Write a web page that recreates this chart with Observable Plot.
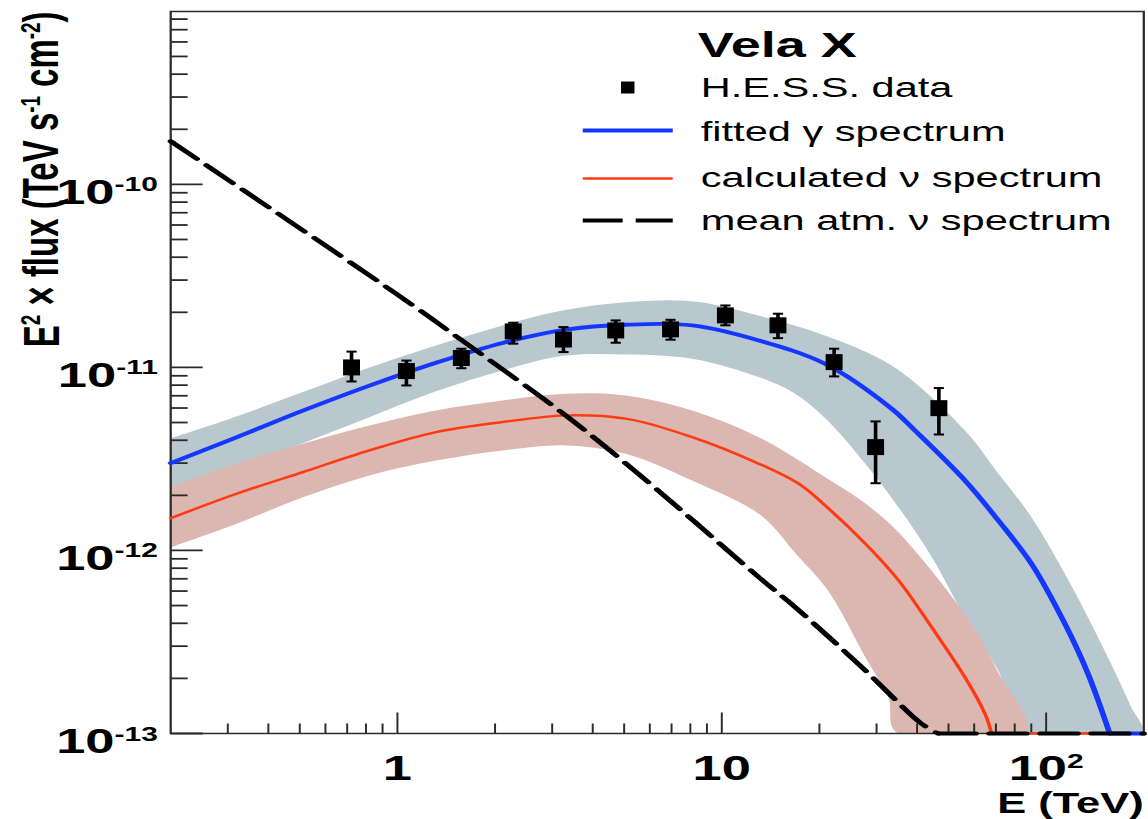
<!DOCTYPE html>
<html>
<head>
<meta charset="utf-8">
<script src="https://cdn.jsdelivr.net/npm/d3@7"></script>
<script src="https://cdn.jsdelivr.net/npm/@observablehq/plot@0.6"></script>
<style>
  html, body { margin: 0; padding: 0; background: #fff; overflow: hidden; }
  #chart { width: 765.333px; height: 819px; transform: scaleX(1.5); transform-origin: 0 0; }
</style>
</head>
<body>
<div id="chart"></div>
<script>
// The figure is laid out at 1/1.5 of its width and widened by CSS,
// which gives the broad lettering of the printed spectrum plot.
const S = 1.5;
const W = 1148 / S, H = 819;
const Y_MIN = 1e-13, Y_MAX = 8.8e-10;

// H.E.S.S. flux points: energy (TeV), E^2 dN/dE and 1-sigma bounds (TeV s^-1 cm^-2)
const pointE  = [0.722, 1.066, 1.574, 2.275, 3.25, 4.71, 6.95, 10.26, 14.9, 22.2, 29.8, 46.7];
const pointF  = [1.00e-11, 0.955e-11, 1.125e-11, 1.573e-11, 1.42e-11, 1.592e-11, 1.614e-11, 1.924e-11, 1.698e-11, 1.069e-11, 3.67e-12, 5.99e-12];
const pointHi = [1.22e-11, 1.09e-11, 1.265e-11, 1.755e-11, 1.66e-11, 1.806e-11, 1.82e-11, 2.18e-11, 1.965e-11, 1.265e-11, 5.07e-12, 7.71e-12];
const pointLo = [0.838e-11, 0.797e-11, 0.99e-11, 1.348e-11, 1.213e-11, 1.364e-11, 1.417e-11, 1.698e-11, 1.445e-11, 0.893e-11, 2.33e-12, 4.30e-12];

// fitted gamma-ray spectrum
const gammaE = [0.2, 0.319, 0.511, 0.82, 1.315, 2.11, 3.30, 5.05, 8.10, 13.0, 20.8, 33.4, 39.4, 56.2, 71.2, 90.1, 114.2, 134.6, 157, 200];
const gammaF = [3.0e-12, 4.15e-12, 5.8e-12, 7.95e-12, 1.06e-11, 1.36e-11, 1.607e-11, 1.71e-11, 1.696e-11, 1.404e-11, 1.047e-11, 5.95e-12, 4.52e-12, 2.41e-12, 1.459e-12, 8.46e-13, 3.98e-13, 2.12e-13, 1.0e-13, 1.0e-13];
// its uncertainty band
const gammaUpE = [0.2, 0.319, 0.511, 0.82, 1.315, 2.11, 3.2, 5.05, 8.10, 13.0, 20.8, 33.4, 56.2, 71.2, 90.1, 114.2, 144.5, 183, 196];
const gammaUpF = [4.1e-12, 5.4e-12, 7.33e-12, 1.0e-11, 1.318e-11, 1.696e-11, 2.04e-11, 2.27e-11, 2.30e-11, 1.92e-11, 1.496e-11, 1.025e-11, 4.52e-12, 2.63e-12, 1.52e-12, 7.46e-13, 3.36e-13, 1.39e-13, 1.02e-13];
const gammaLoE = [0.2, 0.319, 0.511, 0.82, 1.315, 2.11, 3.3, 5.05, 8.10, 13.0, 16.5, 20.8, 27.7, 35.0, 44.4, 56.2, 71.2, 86.0];
const gammaLoF = [2.04e-12, 2.75e-12, 3.85e-12, 5.35e-12, 7.4e-12, 9.63e-12, 1.16e-11, 1.178e-11, 1.116e-11, 8.85e-12, 7.33e-12, 5.3e-12, 2.98e-12, 1.73e-12, 9.2e-13, 4.3e-13, 2.2e-13, 1.04e-13];

// calculated neutrino spectrum
const nuE = [0.2, 0.319, 0.511, 0.82, 1.315, 2.11, 3.30, 5.05, 8.10, 13.0, 17.3, 21.3, 27.7, 35.0, 44.4, 56.2, 64.8, 67.9, 200];
const nuF = [1.5e-12, 2.04e-12, 2.68e-12, 3.52e-12, 4.43e-12, 5.03e-12, 5.47e-12, 5.25e-12, 4.16e-12, 2.98e-12, 2.31e-12, 1.70e-12, 1.09e-12, 6.9e-13, 3.8e-13, 2.03e-13, 1.28e-13, 1.0e-13, 1.0e-13];
// its uncertainty band
const nuUpE = [0.2, 0.319, 0.511, 0.82, 1.315, 2.11, 3.3, 5.05, 8.10, 13.0, 20.8, 26.4, 33.4, 41.8, 51.7, 59.6, 71.2, 86.1];
const nuUpF = [2.22e-12, 2.98e-12, 3.83e-12, 4.82e-12, 5.82e-12, 6.6e-12, 7.18e-12, 7.03e-12, 5.82e-12, 4.16e-12, 2.52e-12, 1.92e-12, 1.37e-12, 8.82e-13, 5.47e-13, 3.80e-13, 2.15e-13, 1.0e-13];
const nuLoE = [0.2, 0.319, 0.511, 0.82, 1.315, 2.11, 3.3, 5.05, 8.10, 13.0, 17.0, 21.3, 27.7, 32.6, 35.0];
const nuLoF = [1.04e-12, 1.40e-12, 1.95e-12, 2.57e-12, 3.10e-12, 3.52e-12, 3.75e-12, 3.38e-12, 2.41e-12, 1.585e-12, 9.5e-13, 6.0e-13, 2.61e-13, 1.58e-13, 1.0e-13];

// mean atmospheric neutrino spectrum
const atmE = [0.2, 0.99, 1.55, 3.30, 5.68, 13.0, 17.3, 27.7, 41.3, 46.5, 200];
const atmF = [1.72e-10, 2.53e-11, 1.44e-11, 5.47e-12, 2.52e-12, 7.15e-13, 4.70e-13, 2.21e-13, 1.13e-13, 1.0e-13, 1.0e-13];

// axes
const xMajor = [1, 10, 100];
const xMajorLabels = ["1", "10", "10^{2}"];
const xMinor = [0.3, 0.4, 0.5, 0.6, 0.7, 0.8, 0.9, 2, 3, 4, 5, 6, 7, 8, 9, 20, 30, 40, 50, 60, 70, 80, 90];
const yMajor = [1e-13, 1e-12, 1e-11, 1e-10];
const yMajorLabels = ["10^{-13}", "10^{-12}", "10^{-11}", "10^{-10}"];
const yMinor = [2e-13, 3e-13, 4e-13, 5e-13, 6e-13, 7e-13, 8e-13, 9e-13,
                2e-12, 3e-12, 4e-12, 5e-12, 6e-12, 7e-12, 8e-12, 9e-12,
                2e-11, 3e-11, 4e-11, 5e-11, 6e-11, 7e-11, 8e-11, 9e-11,
                2e-10, 3e-10, 4e-10, 5e-10, 6e-10, 7e-10, 8e-10];
const xTitle = "E (TeV)";
const yTitle = "E^{2} × flux (TeV s^{-1} cm^{-2})";

const legendTitle = "Vela X";
const legendLabels = ["H.E.S.S. data", "fitted γ spectrum", "calculated ν spectrum", "mean atm. ν spectrum"];

const BLUE = "#1437ff", RED = "#ff3a12", GRAYBAND = "#b9c8cf", PINKBAND = "#dcb6b0", INK = "#111", AXIS = "#2a2a2a";

const series = (E, F) => E.map((e, i) => ({E: e, F: F[i]}));
const polygon = (upE, upF, loE, loF) => series(upE, upF).concat(series(loE, loF).reverse());
const points = pointE.map((e, i) => ({E: e, F: pointF[i], hi: pointHi[i], lo: pointLo[i]}));

// A spectrum that reaches the bottom of the frame runs along it from there on:
// the falling part is drawn smooth, the part lying on the axis straight.
function spectrum(E, F, style) {
  const s = series(E, F);
  const k = s.findIndex(d => d.F <= Y_MIN);
  const falling = k < 0 ? s : s.slice(0, k + 1);
  const marks = [Plot.line(falling, {x: "E", y: "F", curve: "catmull-rom", ...style})];
  if (k >= 0) marks.push(Plot.line(s.slice(k), {x: "E", y: "F", ...style}));
  return marks;
}

// small path symbols for ticks, error-bar caps, markers and legend keys
const seg = (...xy) => ({draw(ctx) { for (let k = 0; k < xy.length; k += 4) { ctx.moveTo(xy[k], xy[k + 1]); ctx.lineTo(xy[k + 2], xy[k + 3]); } }});
const box = (w, h) => ({draw(ctx) { ctx.moveTo(-w / 2, -h / 2); ctx.lineTo(w / 2, -h / 2); ctx.lineTo(w / 2, h / 2); ctx.lineTo(-w / 2, h / 2); ctx.closePath(); }});

const FONT = "'Liberation Sans', Arial, Helvetica, sans-serif";
const legendX = 353.4;                 // text start, from the frame's left edge
const keyX = 304.7;                    // centre of the legend keys
const rowY = [76, 119, 167, 209];      // key rows, from the frame's top
const textY = [86, 130, 176, 219];     // text baselines
const keySymbols = [
  {symbol: box(9, 12), fill: "#000", stroke: "none"},
  {symbol: seg(-30, 0, 30, 0), fill: "none", stroke: BLUE, strokeWidth: 3.8},
  {symbol: seg(-30, 0, 30, 0), fill: "none", stroke: RED, strokeWidth: 2.4},
  {symbol: seg(-30, 0, -3.4, 0, 5.3, 0, 30, 0), fill: "none", stroke: "#000", strokeWidth: 4}
];

const legendMarks = legendLabels.flatMap((label, i) => [
  Plot.dot([label], {frameAnchor: "top-left", dx: keyX, dy: rowY[i], ...keySymbols[i]}),
  Plot.text([label], {text: d => d, frameAnchor: "top-left", textAnchor: "start", lineAnchor: "bottom", dx: legendX, dy: textY[i], fontSize: 27.7, fill: "#000"})
]);

const plot = Plot.plot({
  width: W, height: H,
  marginLeft: 113.3, marginRight: 3.3, marginTop: 11, marginBottom: 86,
  x: {type: "log", domain: [0.2, 200], axis: null},
  y: {type: "log", domain: [Y_MIN, Y_MAX], axis: null},
  style: {fontFamily: FONT, background: "white", color: INK},
  marks: [
    // uncertainty bands
    Plot.line(polygon(gammaUpE, gammaUpF, gammaLoE, gammaLoF), {x: "E", y: "F", fill: GRAYBAND, stroke: "none", curve: "catmull-rom", clip: true}),
    Plot.line(polygon(nuUpE, nuUpF, nuLoE, nuLoF), {x: "E", y: "F", fill: PINKBAND, stroke: "none", curve: "catmull-rom", clip: true}),

    // frame and inward ticks
    Plot.frame({stroke: AXIS, strokeWidth: 1.5}),
    Plot.dot(yMajor, {y: d => d, frameAnchor: "left", symbol: seg(0, 0, 21.3, 0), fill: "none", stroke: AXIS, strokeWidth: 1.8}),
    Plot.dot(yMinor, {y: d => d, frameAnchor: "left", symbol: seg(0, 0, 11.3, 0), fill: "none", stroke: AXIS, strokeWidth: 1.8}),
    Plot.dot(xMajor, {x: d => d, frameAnchor: "bottom", symbol: seg(0, 0, 0, -21), fill: "none", stroke: AXIS, strokeWidth: 1.3}),
    Plot.dot(xMinor, {x: d => d, frameAnchor: "bottom", symbol: seg(0, 0, 0, -10), fill: "none", stroke: AXIS, strokeWidth: 1.3}),

    // spectra
    ...spectrum(nuE, nuF, {stroke: RED, strokeWidth: 2.4}),
    ...spectrum(gammaE, gammaF, {stroke: BLUE, strokeWidth: 3.8}),
    ...spectrum(atmE, atmF, {stroke: "#000", strokeWidth: 4, strokeDasharray: "25,9"}),

    // data points with error bars
    Plot.ruleX(points, {x: "E", y1: "lo", y2: "hi", stroke: "#000", strokeWidth: 2.4}),
    Plot.dot(points, {x: "E", y: "hi", symbol: seg(-3.4, 0, 3.4, 0), fill: "none", stroke: "#000", strokeWidth: 2}),
    Plot.dot(points, {x: "E", y: "lo", symbol: seg(-3.4, 0, 3.4, 0), fill: "none", stroke: "#000", strokeWidth: 2}),
    Plot.dot(points, {x: "E", y: "F", symbol: box(11.3, 16), fill: "#000", stroke: "none"}),

    // tick labels and titles
    Plot.text(yMajor, {y: d => d, text: (d, i) => yMajorLabels[i], frameAnchor: "left", textAnchor: "end", lineAnchor: "bottom", dx: -8.6, dy: 20, fontSize: 35, fontWeight: "bold", fill: "#000"}),
    Plot.text(xMajor, {x: d => d, text: (d, i) => xMajorLabels[i], frameAnchor: "bottom", lineAnchor: "bottom", dy: 47, fontSize: 35, fontWeight: "bold", fill: "#000"}),
    Plot.text([xTitle], {text: d => d, frameAnchor: "bottom-right", textAnchor: "end", lineAnchor: "bottom", dy: 80, fontSize: 29, fontWeight: "bold", fill: "#000"}),
    Plot.text([yTitle], {text: d => d, frameAnchor: "top-left", rotate: -90, textAnchor: "end", lineAnchor: "bottom", dx: -74.8, dy: 0, fontSize: 33, fontWeight: "bold", fill: "#000"}),

    // legend
    Plot.text([legendTitle], {text: d => d, frameAnchor: "top-left", textAnchor: "start", lineAnchor: "bottom", dx: legendX - 2, dy: 46, fontSize: 36, fontWeight: "bold", fill: "#000"}),
    ...legendMarks
  ]
});

// turn "^{...}" into raised, smaller tspans
d3.select(plot).selectAll("text").each(function () {
  const s = this.textContent;
  if (!s.includes("^{")) return;
  const parts = s.split(/\^\{([^}]*)\}/);
  this.textContent = "";
  let raised = false;
  parts.forEach((p, i) => {
    const sup = i % 2 === 1;
    if (!sup && !p) return;
    const t = document.createElementNS("http://www.w3.org/2000/svg", "tspan");
    t.textContent = p;
    if (sup) {
      t.setAttribute("font-size", "57%");
      t.setAttribute("dy", "-0.65em");
      raised = true;
    } else if (raised) {
      t.setAttribute("dy", "0.37em");
      raised = false;
    }
    this.appendChild(t);
  });
});

document.getElementById("chart").appendChild(plot);
</script>
</body>
</html>
